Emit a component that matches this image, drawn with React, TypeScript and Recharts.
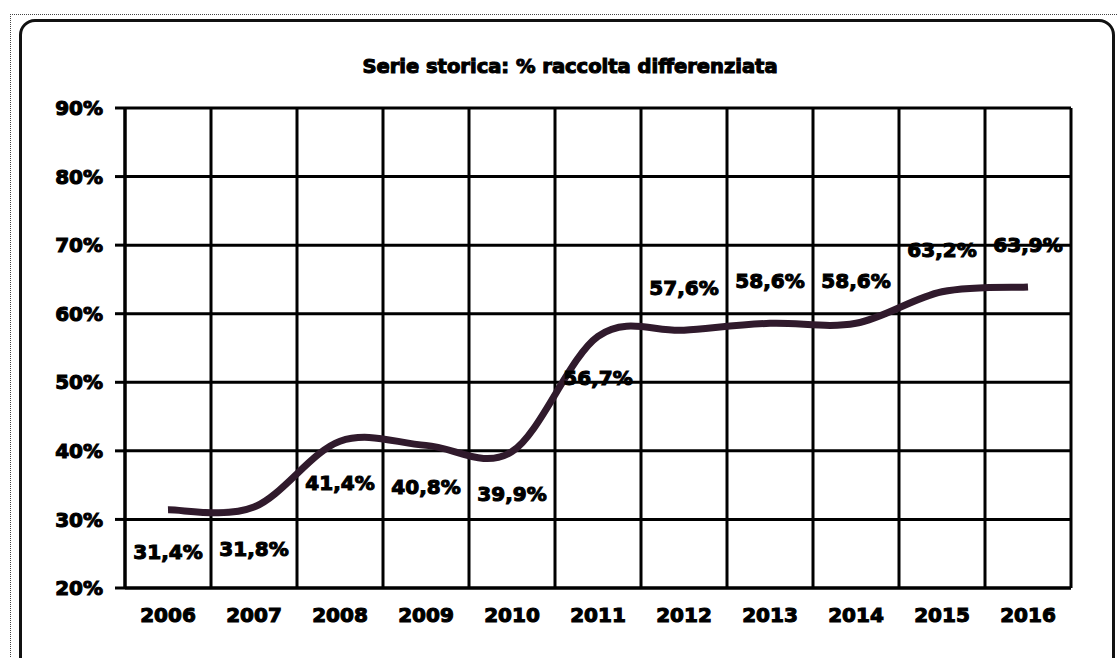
import { LineChart, Line, XAxis, YAxis, CartesianGrid, LabelList } from 'recharts'

const years = ['2006', '2007', '2008', '2009', '2010', '2011', '2012', '2013', '2014', '2015', '2016']
const percent = [31.4, 31.8, 41.4, 40.8, 39.9, 56.7, 57.6, 58.6, 58.6, 63.2, 63.9]
const yTicks = [20, 30, 40, 50, 60, 70, 80, 90]
const gridTicks = [-0.5, 0.5, 1.5, 2.5, 3.5, 4.5, 5.5, 6.5, 7.5, 8.5, 9.5, 10.5]

const data = years.map((year, i) => ({ i, year, value: percent[i] }))

const font = 'DejaVu Sans, Liberation Sans, sans-serif'
const fmt = (v: number) => `${v.toFixed(1).replace('.', ',')}%`

// Excel style smoothed line (Catmull-Rom through every point)
const excelSmooth = (context: any) => {
  let pts: number[][] = []
  return {
    areaStart() {},
    areaEnd() {},
    lineStart() { pts = [] },
    point(x: number, y: number) { pts.push([+x, +y]) },
    lineEnd() {
      if (!pts.length) return
      context.moveTo(pts[0][0], pts[0][1])
      for (let k = 0; k < pts.length - 1; k++) {
        const p0 = pts[k - 1] || pts[k]
        const p1 = pts[k]
        const p2 = pts[k + 1]
        const p3 = pts[k + 2] || p2
        context.bezierCurveTo(
          p1[0] + (p2[0] - p0[0]) / 6, p1[1] + (p2[1] - p0[1]) / 6,
          p2[0] - (p3[0] - p1[0]) / 6, p2[1] - (p3[1] - p1[1]) / 6,
          p2[0], p2[1],
        )
      }
    },
  }
}

function PointLabel(props: any) {
  const { x, y, value, index } = props
  // first half of the series has its labels under the line, the rest above
  const below = index < 6
  return (
    <text
      x={x}
      y={below ? y + 42 : y - 42}
      textAnchor="middle"
      dominantBaseline="central"
      fontFamily={font}
      fontWeight="bold"
      fontSize={20}
      fill="#000"
      stroke="#000"
      strokeWidth={1.1}
    >
      {fmt(value)}
    </text>
  )
}

export default function App() {
  const tickStyle = { fontFamily: font, fontWeight: 'bold', fontSize: 20, fill: '#000', stroke: '#000', strokeWidth: 1.1 }
  return (
    <div style={{ position: 'absolute', left: 0, top: 0, width: 1118, height: 658, overflow: 'hidden', background: '#fff' }}>
      <div style={{ position: 'absolute', left: 10, top: 14, width: 1200, height: 700, borderTop: '1px dotted #444', borderLeft: '1px dotted #444' }} />
      <div style={{ position: 'absolute', left: 19, top: 19, width: 1090, height: 700, border: '3px solid #111', borderRadius: 16 }} />
      <div
        style={{
          position: 'absolute', left: 0, top: 55, width: 1140, textAlign: 'center',
          fontFamily: font, fontWeight: 'bold', fontSize: 19.5, color: '#000',
          WebkitTextStroke: '1.1px #000',
        }}
      >
        Serie storica: % raccolta differenziata
      </div>
      <div style={{ position: 'absolute', left: 0, top: 0 }}>
        <LineChart width={1118} height={658} data={data} margin={{ top: 108, right: 47, bottom: 30, left: 65 }}>
          <XAxis xAxisId="grid" type="number" dataKey="i" domain={[-0.5, 10.5]} ticks={gridTicks} hide />
          <CartesianGrid xAxisId="grid" stroke="#000" strokeWidth={3} strokeOpacity={1} />
          <XAxis
            type="number"
            dataKey="i"
            domain={[-0.5, 10.5]}
            ticks={years.map((_, i) => i)}
            tickFormatter={(i: number) => years[i]}
            axisLine={{ stroke: '#000', strokeWidth: 3 }}
            tickLine={false}
            tickSize={0}
            tickMargin={20}
            height={40}
            tick={tickStyle}
            interval={0}
          />
          <YAxis
            domain={[20, 90]}
            ticks={yTicks}
            tickFormatter={(v: number) => `${v}%`}
            axisLine={{ stroke: '#000', strokeWidth: 3 }}
            tickLine={{ stroke: '#000', strokeWidth: 3 }}
            tickSize={10}
            tickMargin={12}
            width={60}
            tick={tickStyle}
            interval={0}
          />
          <Line
            dataKey="value"
            type={excelSmooth as any}
            stroke="#301a2c"
            strokeWidth={7}
            dot={false}
            isAnimationActive={false}
          >
            <LabelList dataKey="value" content={<PointLabel />} />
          </Line>
        </LineChart>
      </div>
    </div>
  )
}
